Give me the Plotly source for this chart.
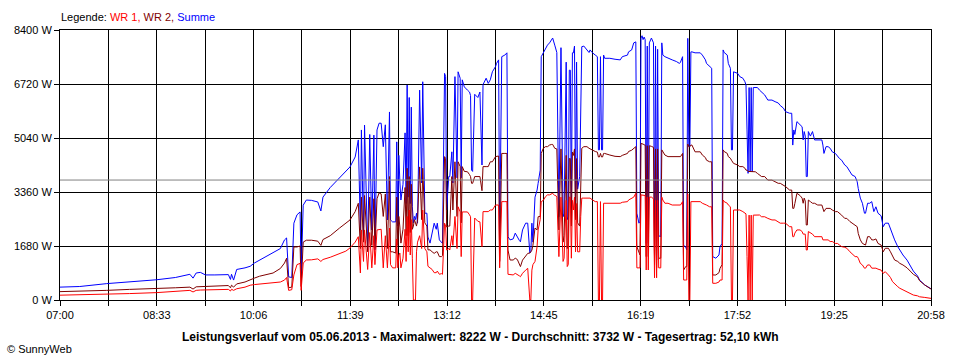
import plotly.graph_objects as go

# ---------------- data ----------------
# time in minutes after 07:00
minutes = [
    0, 19, 45, 67, 93, 111, 125, 128, 131, 135, 140, 149, 162, 164, 165, 167, 170, 178, 183, 187,
    192, 199, 205, 212, 216, 218, 220, 223, 225, 228, 231, 232, 234, 237, 242, 248, 251, 253, 260, 269,
    275, 279, 284, 287,
    289, 290, 292, 293, 296, 298, 300, 302, 303, 305, 307, 309, 311, 313, 315, 317, 318, 320, 323, 324,
    325, 326,
    327, 328, 330, 332, 333, 334, 335, 336, 337, 338, 339, 340, 341, 342, 343, 344, 346, 348, 349, 351,
    353, 354, 356, 358, 360, 362, 363, 365, 367, 368, 370, 371, 372, 374, 375, 377, 378, 380, 382, 383,
    385, 386, 387, 389, 392, 394, 395, 396, 397, 399, 402, 404, 406, 407, 410, 412, 414, 416, 419, 420,
    422, 423, 425, 428, 430, 431, 433, 436, 438, 440, 442,
    443, 445, 448, 450, 452, 453, 454, 455, 457, 459, 460, 462, 463, 465, 467, 469, 471, 473, 474, 476,
    477, 478, 480, 482, 484, 485, 487, 488, 489, 490, 491, 492, 493, 494, 495, 496, 497, 498, 500, 501,
    502, 504, 507, 509, 510, 512, 515, 517, 518, 519, 520, 521, 522, 523, 524, 529, 534, 539, 541, 546,
    547, 550, 552, 554, 555, 557, 558,
    559, 560, 561, 562, 563, 564, 565, 566, 567, 569, 571, 572, 573, 574, 575, 576, 578, 579, 580, 582,
    585, 589, 593, 596, 597, 599, 600, 602, 603, 604, 605, 606, 607, 608, 611, 616, 618, 621, 622, 625,
    627, 628, 631, 634, 635, 637, 638, 639, 642, 643, 645, 646, 647, 648, 652, 654, 657, 659, 660, 661,
    662, 663, 664, 665, 666, 667, 669, 671, 673,
    675, 678, 681, 685, 688, 691, 693, 696, 698, 702, 704, 705, 706, 707, 709, 712, 714, 715, 716, 717,
    718, 719, 720, 722, 724, 726, 729, 733, 734, 735, 737, 739, 741, 743, 746, 748, 750, 752, 755, 757,
    760, 762, 765, 767, 768, 770, 772, 774, 775, 777, 779, 781, 783, 785, 787, 790, 792, 794, 797, 799,
    801, 803, 806, 808, 811, 815, 818, 821, 825, 827, 832, 838,
]

wr1 = [
    150, 160, 180, 200, 230, 260, 300, 250, 300, 310, 310, 320, 330, 280, 335, 300, 350, 400, 460, 480,
    500, 510, 530, 560, 620, 700, 300, 320, 780, 1100, 1140, 300, 1150, 1244, 1250, 1280, 1200, 1260, 1330, 1450,
    1520, 1620, 1800, 1970,
    840, 2180, 1200, 2180, 950, 2100, 1000, 2000, 1100, 2180, 2200, 2200, 1000, 2000, 1000, 2240, 1100, 1000, 1000, 1900,
    1000, 1400,
    1460, 1000, 1300, 2200, 1200, 2600, 1500, 2800, 1400, 2500, 1300, 0, 0, 0, 1500, 1800, 2000, 1600, 2800, 1600,
    1500, 1050, 1000, 950, 850, 850, 900, 800, 820, 800, 2390, 2300, 1555, 1600, 1555, 2000, 1700, 2600, 1600, 2900,
    2740, 1350, 2740, 2740, 2740, 2650, 2590, 0, 0, 2550, 2450, 2430, 1660, 2750, 2750, 2750, 2800, 2800, 2955, 2955,
    2955, 1000, 3060, 3060, 3060, 800, 800, 780, 830, 800, 750,
    725, 830, 930, 985, 0, 0, 930, 1100, 1200, 1660, 2180, 2500, 3060, 3100, 3210, 3270, 3270, 3320, 3320, 3250,
    3250, 3200, 1350, 3200, 1200, 1300, 3100, 1040, 1100, 3200, 3200, 1300, 3100, 2800, 3200, 1500, 3000, 1500, 1500, 2600,
    3170, 3170, 3170, 3170, 3170, 3120, 3060, 3060, 0, 0, 3060, 0, 0, 3010, 3010, 3010, 3010, 3010, 3040, 3060,
    3110, 3170, 3200, 3320, 1000, 1000, 1000,
    3270, 3270, 3250, 3250, 3250, 933, 3200, 933, 3200, 3200, 3150, 690, 3100, 690, 3100, 1000, 1000, 3200, 3110, 3010,
    3010, 2955, 2955, 2955, 2955, 3060, 622, 622, 622, 3300, 0, 0, 3060, 3060, 3060, 3060, 3010, 2980, 2955, 2900,
    2900, 520, 520, 560, 622, 622, 3110, 3060, 3010, 2955, 2900, 0, 0, 2800, 2800, 2800, 2750, 2700, 2680, 1350,
    0, 2640, 0, 2640, 0, 2640, 2644, 2644, 2644,
    2590, 2590, 2540, 2490, 2490, 2440, 2390, 2390, 2390, 2280, 2280, 1970, 1970, 2080, 2180, 2180, 2130, 2050, 2050, 2050,
    1555, 1555, 2130, 2080, 2050, 1970, 1970, 1970, 1870, 1870, 1870, 1870, 1820, 1820, 1760, 1760, 1710, 1660, 1640, 1610,
    1500, 1450, 1350, 1350, 1300, 1140, 1090, 990, 990, 1090, 1090, 990, 990, 990, 960, 930, 830, 880, 780, 700,
    570, 500, 415, 365, 311, 260, 210, 155, 130, 100, 80, 50,
]

wr2 = [
    260, 270, 300, 330, 350, 380, 400, 340, 410, 415, 410, 420, 450, 380, 460, 400, 500, 560, 640, 680,
    740, 790, 840, 980, 1150, 1300, 380, 400, 1650, 1650, 1680, 420, 1800, 1860, 1860, 1830, 1700, 1880, 2000, 2240,
    2380, 2490, 2750, 3010,
    1600, 3200, 1800, 3250, 1500, 3200, 1700, 3150, 1600, 3150, 3330, 3300, 2600, 3300, 1600, 3840, 1500, 1500, 1460, 3200,
    1700, 2600,
    2270, 1770, 2200, 3500, 2000, 4100, 2000, 3840, 2100, 3600, 2200, 2300, 2500, 2400, 2300, 2500, 4140, 2500, 4100, 2400,
    2300, 1560, 1560, 1500, 1450, 1500, 1500, 1350, 1350, 1380, 4460, 4400, 2270, 2300, 2300, 3840, 2800, 4300, 2600, 4300,
    4150, 2400, 4150, 4000, 3990, 3900, 3840, 3630, 3630, 3840, 3830, 3840, 3400, 4150, 4150, 4150, 4300, 4300, 4460, 4460,
    4480, 1200, 4560, 4560, 4560, 1555, 1244, 1244, 1300, 1260, 1100,
    1040, 1240, 1350, 1450, 1460, 1500, 1550, 1700, 2240, 2180, 2590, 2600, 4560, 4720, 4770, 4770, 4820, 4840, 4840, 4720,
    4720, 4700, 2180, 4700, 1800, 2000, 4500, 1600, 1700, 4400, 4400, 2300, 4600, 4500, 4700, 2500, 4400, 2400, 2300, 3200,
    4720, 4770, 4770, 4720, 4700, 4670, 4620, 4600, 4450, 4450, 4560, 4450, 4450, 4560, 4560, 4510, 4470, 4460, 4500, 4560,
    4620, 4660, 4720, 4770, 1660, 1450, 1400,
    4870, 4870, 4850, 4830, 4820, 1350, 4800, 1350, 4800, 4780, 4750, 1100, 4700, 1000, 4700, 1300, 1300, 4670, 4620, 4510,
    4460, 4460, 4460, 4460, 4460, 4560, 933, 1040, 1040, 4850, 4770, 4770, 4820, 4820, 4610, 4610, 4510, 4430, 4350, 4300,
    4300, 778, 778, 850, 985, 1100, 4670, 4620, 4560, 4460, 4410, 4350, 4300, 4250, 4200, 4150, 4150, 4100, 4040, 4040,
    4000, 4000, 3990, 3990, 3990, 3990, 3990, 3940, 3890,
    3840, 3840, 3730, 3730, 3680, 3630, 3630, 3580, 3530, 3420, 3420, 2850, 2850, 3000, 3320, 3250, 3170, 3010, 3170, 3080,
    2333, 2333, 3110, 3060, 3010, 3010, 2955, 2955, 2850, 2750, 2850, 2850, 2850, 2800, 2750, 2750, 2700, 2640, 2540, 2540,
    2440, 2390, 2330, 2280, 2070, 1870, 1760, 1710, 1710, 1970, 1970, 1870, 1870, 1900, 1760, 1710, 1500, 1610, 1610, 1500,
    1350, 1244, 1200, 1140, 1090, 1000, 900, 800, 720, 600, 467, 340,
]

summe = [
    400, 420, 510, 560, 630, 700, 800, 680, 840, 860, 780, 780, 790, 640, 800, 620, 950, 1000, 1050, 1150,
    1240, 1350, 1450, 1600, 1870, 1930, 720, 700, 2390, 2650, 2740, 725, 2950, 3110, 3100, 3050, 2770, 3200, 3500, 3790,
    3990, 4140, 4450, 4980,
    2180, 5290, 2000, 5440, 1555, 5150, 2180, 5130, 1555, 5290, 5500, 5500, 4770, 5450, 2490, 5850, 2490, 2430, 2430, 4920,
    2300, 4500,
    3670, 3110, 3600, 5200, 3000, 6690, 3200, 6300, 3000, 6000, 2900, 2400, 2600, 2500, 2700, 2390, 6530, 3640, 6790, 2700,
    2700, 1960, 1770, 2100, 2390, 2200, 2390, 1870, 1800, 1760, 7050, 6950, 2800, 3840, 3840, 4610, 3640, 6950, 3800, 7100,
    6900, 3800, 6850, 6630, 6530, 6470, 6360, 4040, 4000, 6400, 6300, 6470, 4200, 6700, 6900, 6740, 6850, 7100, 7260, 7360,
    7470, 1870, 7570, 7620, 7690, 1970, 1870, 1900, 2080, 1950, 1850,
    1810, 2180, 2390, 2390, 1460, 1500, 2390, 1800, 3200, 3420, 3630, 4040, 7570, 7700, 7780, 7930, 8000, 8090, 8150, 7930,
    7780, 7700, 2590, 7850, 2590, 2700, 7400, 2500, 2600, 7150, 7150, 2800, 7690, 7690, 7900, 3000, 7400, 3450, 3840, 5390,
    7880, 7900, 7780, 7700, 7780, 7700, 7620, 7570, 4670, 4670, 7570, 4670, 4670, 7620, 7520, 7520, 7490, 7470, 7570, 7620,
    7720, 7780, 8000, 8030, 2700, 2390, 2450,
    8150, 8222, 8100, 8180, 8100, 1760, 7900, 1760, 8000, 8150, 8000, 1244, 7900, 1244, 7800, 2000, 1970, 8000, 7620, 7570,
    7520, 7470, 7420, 7360, 7400, 7570, 1700, 1650, 1555, 8140, 4770, 4770, 7720, 7720, 7690, 7690, 7620, 7470, 7360, 7260,
    7210, 1350, 1300, 1400, 1660, 1760, 7780, 7700, 7620, 7360, 7210, 4670, 4670, 7100, 7050, 6950, 6900, 6790, 6690, 5290,
    3940, 6610, 3990, 6610, 3990, 6610, 6610, 6610, 6530,
    6480, 6380, 6220, 6220, 6170, 6130, 6050, 5970, 5860, 5810, 5810, 4820, 5290, 5150, 5550, 5440, 5390, 4980, 5240, 5100,
    3840, 3840, 5240, 5100, 5240, 4980, 4980, 4980, 4820, 4560, 4770, 4770, 4720, 4610, 4560, 4460, 4400, 4350, 4200, 4150,
    3990, 3890, 3840, 3680, 3470, 3170, 3010, 2700, 2700, 3010, 3010, 3060, 2750, 2900, 2700, 2620, 2280, 2390, 2390, 2200,
    2000, 1870, 1660, 1555, 1400, 1240, 1050, 900, 750, 622, 467, 350,
]

x_tick_labels = ["07:00", "08:33", "10:06", "11:39", "13:12", "14:45", "16:19", "17:52", "19:25", "20:58"]
y_tick_values = [0, 1680, 3360, 5040, 6720, 8400]
y_tick_labels = ["0 W", "1680 W", "3360 W", "5040 W", "6720 W", "8400 W"]
average_w = 3732
series_names = ["WR 1", "WR 2", "Summe"]
series_colors = ["#FF0000", "#800000", "#0000FF"]
title_text = ("Leistungsverlauf vom 05.06.2013 - Maximalwert: 8222 W - "
              "Durchschnitt: 3732 W - Tagesertrag: 52,10 kWh")

assert len(minutes) == len(wr1) == len(wr2) == len(summe)

# ---------------- figure ----------------
FONT = "Liberation Sans, Arial, sans-serif"
span = 838
step = span / 18
grid_vals = [i * step for i in range(19)]
grid_text = [x_tick_labels[i // 2] if i % 2 == 0 else "" for i in range(19)]

fig = go.Figure()
for name, ys, col in [(series_names[2], summe, series_colors[2]),
                      (series_names[1], wr2, series_colors[1]),
                      (series_names[0], wr1, series_colors[0])]:
    fig.add_trace(go.Scatter(x=minutes, y=ys, mode="lines", name=name,
                             line=dict(color=col, width=1), showlegend=False,
                             hoverinfo="skip"))

fig.add_shape(type="line", xref="paper", x0=0, x1=1, yref="y", y0=average_w, y1=average_w,
              line=dict(color="#808080", width=1), layer="above")

fig.update_layout(
    width=960, height=360,
    margin=dict(l=60, r=29, t=30, b=60, pad=0),
    paper_bgcolor="white", plot_bgcolor="white",
    font=dict(family=FONT, size=11, color="black"),
    xaxis=dict(range=[0, span], tickmode="array", tickvals=grid_vals, ticktext=grid_text,
               showgrid=True, gridcolor="black", gridwidth=1, zeroline=False,
               showline=True, linecolor="black", linewidth=1, mirror=True,
               ticks="outside", ticklen=5, tickwidth=1, tickcolor="black",
               tickfont=dict(family=FONT, size=11, color="black")),
    yaxis=dict(range=[0, 8400], tickmode="array", tickvals=y_tick_values, ticktext=y_tick_labels,
               showgrid=True, gridcolor="black", gridwidth=1, zeroline=False,
               showline=True, linecolor="black", linewidth=1, mirror=True,
               ticks="outside", ticklen=5, tickwidth=1, tickcolor="black",
               tickfont=dict(family=FONT, size=11, color="black")),
    annotations=[
        dict(xref="paper", yref="paper", x=0, y=(300 - 17) / 270, xanchor="left", yanchor="middle",
             showarrow=False, xshift=-1,
             text=("Legende: <span style='color:#FF0000'>WR 1,</span> "
                   "<span style='color:#800000'>WR 2,</span> "
                   "<span style='color:#0000FF'>Summe</span>"),
             font=dict(family=FONT, size=11, color="black")),
        dict(xref="paper", yref="paper", x=(480 - 60) / 871, y=(300 - 337) / 270,
             xanchor="center", yanchor="middle", showarrow=False,
             text="<b>" + title_text + "</b>",
             font=dict(family=FONT, size=12, color="black")),
        dict(xref="paper", yref="paper", x=(5 - 60) / 871, y=(300 - 349) / 270,
             xanchor="left", yanchor="middle", showarrow=False,
             text="© SunnyWeb", font=dict(family=FONT, size=11, color="black")),
    ],
)

# remove the browser's default 8px page margin so the figure sits at (0, 0)
fig.write_html("out.html", config={"displayModeBar": False},
               post_script="document.body.style.margin='0';")
